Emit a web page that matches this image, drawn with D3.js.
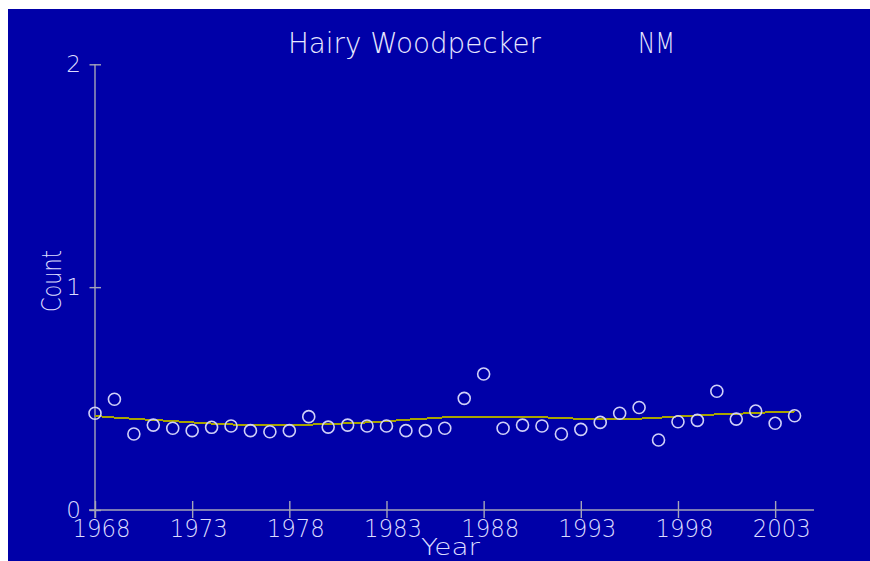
<!DOCTYPE html>
<html>
<head>
<meta charset="utf-8">
<script src="https://cdn.jsdelivr.net/npm/d3@7"></script>
<style>
  html, body { margin: 0; padding: 0; background: #ffffff; }
  svg { display: block; }
  text { font-family: "DejaVu Sans", sans-serif; font-weight: 200; }
</style>
</head>
<body>
<svg id="chart" width="870" height="561"></svg>
<script>
// Annual counts per party-hour, Hairy Woodpecker, New Mexico
const years = d3.range(1968, 2005);
const counts = [
  0.434, 0.497, 0.341, 0.381, 0.367, 0.356, 0.371, 0.377, 0.356, 0.351,
  0.356, 0.419, 0.372, 0.381, 0.377, 0.377, 0.356, 0.356, 0.367, 0.501,
  0.610, 0.367, 0.381, 0.377, 0.341, 0.362, 0.393, 0.434, 0.460, 0.314,
  0.396, 0.402, 0.533, 0.408, 0.444, 0.389, 0.423
];
// Smoothed trend through the same years
const trend = [
  0.422, 0.415, 0.409, 0.404, 0.399, 0.393, 0.388, 0.384, 0.381, 0.381,
  0.381, 0.383, 0.386, 0.389, 0.393, 0.398, 0.405, 0.410, 0.416, 0.417,
  0.417, 0.417, 0.417, 0.416, 0.413, 0.409, 0.407, 0.407, 0.410, 0.414,
  0.420, 0.425, 0.429, 0.432, 0.435, 0.440, 0.442
];
const xTicks = [1968, 1973, 1978, 1983, 1988, 1993, 1998, 2003];
const yTicks = [0, 1, 2];
const titleSpecies = "Hairy  Woodpecker";
const titleState = "NM";

const svg = d3.select("#chart");
const axisColor = "#a4a4b8";
const labelColor = "#dcdcff";
const titleColor = "#e8e8ff";

// Panel background
svg.append("rect")
  .attr("x", 8).attr("y", 9)
  .attr("width", 862).attr("height", 552)
  .attr("fill", "#0000a8");

const x = d3.scaleLinear().domain([1968, 2005]).range([95, 814]);
const y = d3.scaleLinear().domain([0, 2]).range([510, 64.3]);

// X axis
const gx = svg.append("g").attr("transform", `translate(0,${y(0)})`)
  .call(d3.axisBottom(x).tickValues(xTicks).tickFormat(d3.format("d")).tickSizeOuter(0));
gx.select(".domain").remove();
gx.selectAll(".tick line").attr("y1", -9).attr("y2", 8)
  .attr("stroke", axisColor).attr("stroke-width", 1.4);
gx.selectAll(".tick text")
  .attr("x", 6).attr("y", 27).attr("dy", null)
  .attr("font-size", 24).attr("textLength", 58).attr("lengthAdjust", "spacingAndGlyphs")
  .attr("fill", labelColor);
svg.append("line")
  .attr("x1", x(1968) - 6).attr("x2", x(2005))
  .attr("y1", y(0)).attr("y2", y(0))
  .attr("stroke", axisColor).attr("stroke-width", 1.4);

// Y axis
const gy = svg.append("g").attr("transform", `translate(${x(1968)},0)`)
  .call(d3.axisLeft(y).tickValues(yTicks).tickFormat(d3.format("d")).tickSizeOuter(0));
gy.select(".domain").remove();
gy.selectAll(".tick line").attr("x1", -5.5).attr("x2", 6)
  .attr("stroke", axisColor).attr("stroke-width", 1.4);
gy.selectAll(".tick text")
  .attr("x", -14).attr("dy", "0.32em")
  .attr("font-size", 23)
  .attr("fill", labelColor);
svg.append("line")
  .attr("x1", x(1968)).attr("x2", x(1968))
  .attr("y1", y(2)).attr("y2", y(0) + 8)
  .attr("stroke", axisColor).attr("stroke-width", 1.4);

// Axis titles
svg.append("text")
  .attr("x", 421).attr("y", 555)
  .attr("font-size", 23).attr("textLength", 59).attr("lengthAdjust", "spacingAndGlyphs")
  .attr("fill", labelColor)
  .text("Year");
svg.append("text")
  .attr("transform", "translate(61,312) rotate(-90)")
  .attr("font-size", 27).attr("textLength", 62).attr("lengthAdjust", "spacingAndGlyphs")
  .attr("fill", labelColor)
  .text("Count");

// Title
svg.append("text")
  .attr("x", 288).attr("y", 53)
  .attr("font-size", 28).attr("textLength", 253).attr("lengthAdjust", "spacingAndGlyphs")
  .attr("fill", titleColor)
  .text(titleSpecies);
svg.append("text")
  .attr("x", 638).attr("y", 53)
  .attr("font-size", 28).attr("textLength", 37).attr("lengthAdjust", "spacingAndGlyphs")
  .attr("fill", titleColor)
  .text(titleState);

// Trend line
const line = d3.line().x((d, i) => x(years[i])).y(d => y(d));
svg.append("path")
  .datum(trend)
  .attr("d", line)
  .attr("fill", "none")
  .attr("stroke", "#a8a400")
  .attr("stroke-width", 2)
  .attr("shape-rendering", "crispEdges");

// Yearly counts
svg.append("g").selectAll("circle")
  .data(counts)
  .join("circle")
  .attr("cx", (d, i) => x(years[i]))
  .attr("cy", d => y(d))
  .attr("r", 6)
  .attr("fill", "none")
  .attr("stroke", "#d0d0f8")
  .attr("stroke-width", 1.6);
</script>
</body>
</html>
